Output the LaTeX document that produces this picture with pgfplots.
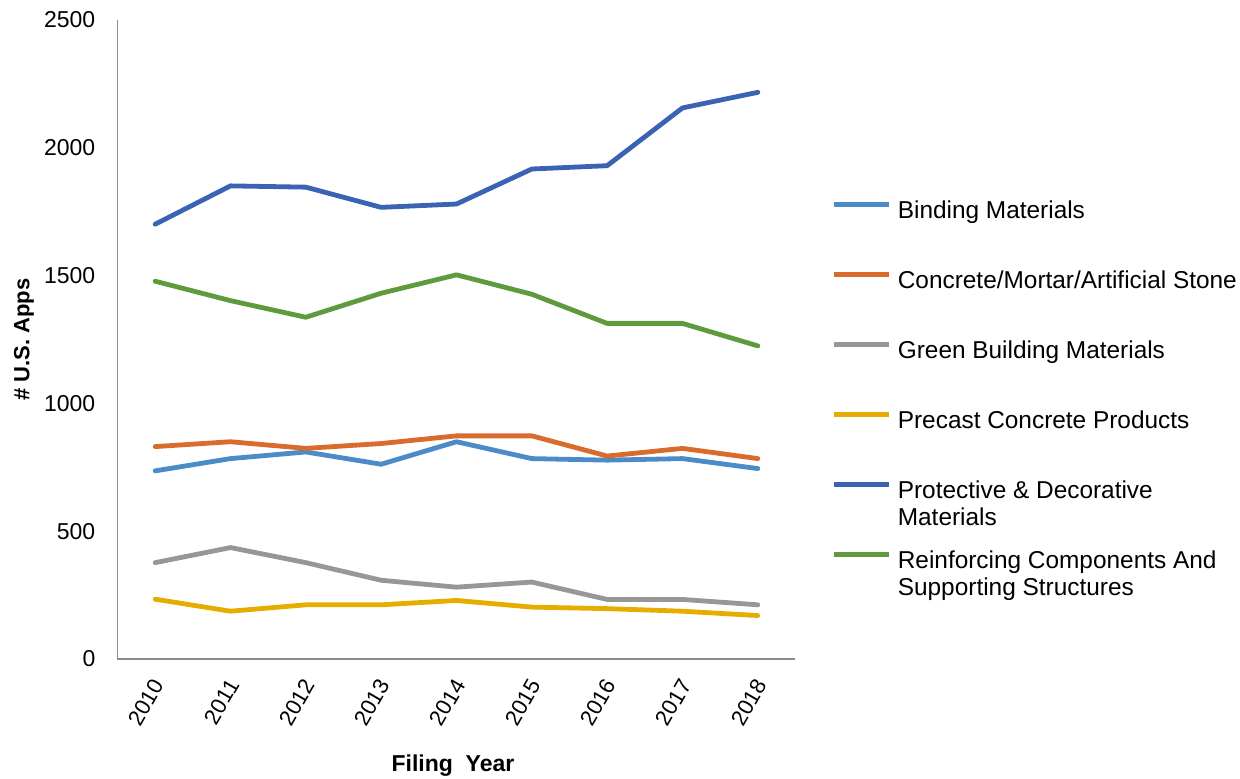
\documentclass[border=0pt]{standalone}
\usepackage{pgfplots}
\pgfplotsset{compat=1.18}
\usepackage{fontspec}
\setmainfont{Liberation Sans}

\definecolor{cBind}{HTML}{4A8BC8}
\definecolor{cConc}{HTML}{D96C2C}
\definecolor{cGreen}{HTML}{979797}
\definecolor{cPrec}{HTML}{E6AC00}
\definecolor{cProt}{HTML}{3B63B4}
\definecolor{cReinf}{HTML}{5F9B3C}
\definecolor{axgray}{HTML}{8C8C8C}

% Filing years are plotted at 0..8 (2010..2018)
\pgfplotstableread{
x bind conc green prec prot reinf
0 736 831 377 234 1701 1478
1 784 850 436 187 1851 1402
2 810 824 377 212 1846 1337
3 762 843 308 212 1767 1431
4 850 873 281 229 1780 1503
5 784 873 301 203 1917 1427
6 778 794 233 197 1930 1313
7 784 824 233 187 2156 1313
8 745 784 212 170 2217 1225
}\apps

\newcommand{\twoline}[2]{\smash{\begin{tabular}[t]{@{}l@{}}#1\\#2\end{tabular}}}

\begin{document}
\begin{tikzpicture}
\begin{axis}[
  name=ax,
  scale only axis,
  width=678pt, height=639pt,
  xmin=-0.5, xmax=8.5, ymin=0, ymax=2500,
  axis x line=bottom, axis y line=left,
  axis line style={-, draw=axgray, line width=1.5pt},
  xtick={0,...,8},
  xticklabels={2010,2011,2012,2013,2014,2015,2016,2017,2018},
  ytick={0,500,...,2500},
  major tick length=0pt,
  /pgf/number format/assume math mode=true,
  /pgf/number format/1000 sep={},
  tick label style={text=black},
  yticklabel style={font=\fontsize{23}{27}\selectfont, anchor=east, inner sep=0pt, xshift=-22pt},
  xticklabel style={font=\fontsize{22}{26}\selectfont, rotate=60, anchor=east, inner sep=0pt, xshift=-17.5pt, yshift=-14pt},
  xlabel={Filing\ \ Year},
  ylabel={\# U.S. Apps},
  label style={font=\fontsize{22}{26}\selectfont\bfseries},
  xlabel style={font=\fontsize{23}{27}\selectfont\bfseries, at={(axis description cs:0.4948,-0.1675)}, anchor=center},
  ylabel style={at={(axis description cs:-0.1379,0.5)}, anchor=center, rotate=0},
  every axis plot/.append style={line width=4.8pt, line join=round, line cap=round},
  legend image code/.code={\draw[#1, line cap=butt] (0pt,8pt) -- (55pt,8pt);},
  legend cell align=left,
  legend style={
    draw=none, fill=none, inner sep=0pt, outer sep=0pt,
    at={(axis description cs:1.0539,0.716)}, anchor=north west,
    font=\fontsize{24.4}{27.5}\selectfont,
    nodes={inner sep=0pt, text height=17pt, text depth=5pt, text=black},
    row sep=48pt, column sep=6pt,
  },
]
\addplot[cBind]  table[x=x, y=bind]  {\apps};
\addlegendentry{Binding Materials}
\addplot[cConc]  table[x=x, y=conc]  {\apps};
\addlegendentry{Concrete/Mortar/Artificial Stone}
\addplot[cGreen] table[x=x, y=green] {\apps};
\addlegendentry{Green Building Materials}
\addplot[cPrec]  table[x=x, y=prec]  {\apps};
\addlegendentry{Precast Concrete Products}
\addplot[cProt]  table[x=x, y=prot]  {\apps};
\addlegendentry{\twoline{Protective \& Decorative}{Materials}}
\addplot[cReinf] table[x=x, y=reinf] {\apps};
\addlegendentry{\twoline{Reinforcing Components And}{Supporting Structures}}
\end{axis}
\pgfresetboundingbox
\path[use as bounding box]
  ([shift={(-117.5pt,-120pt)}]ax.south west) rectangle
  ([shift={(1122.5pt,659pt)}]ax.south west);
\end{tikzpicture}
\end{document}
